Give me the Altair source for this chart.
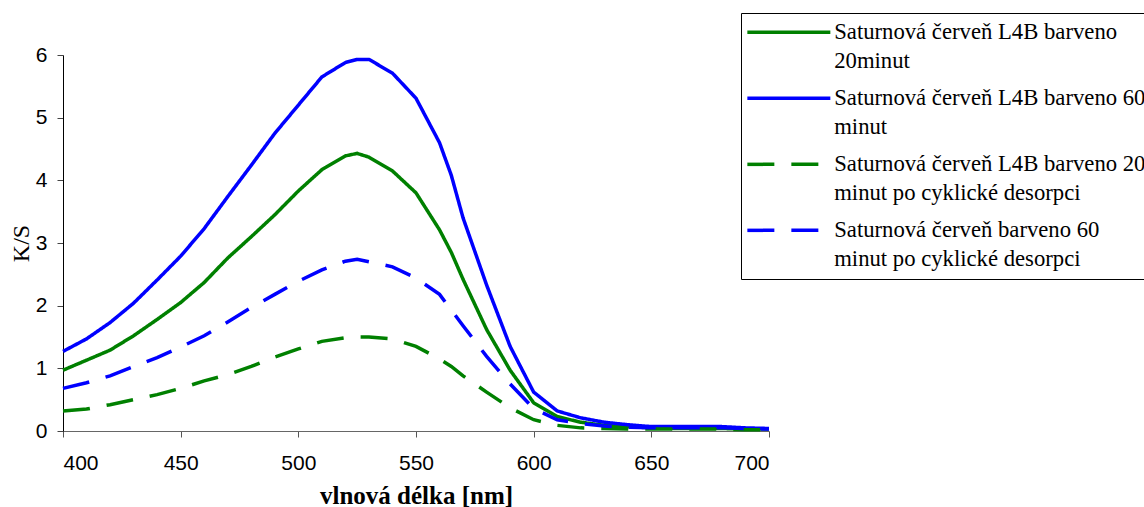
import altair as alt
import pandas as pd

# ---- data ----
wavelength = [400, 410, 420, 430, 440, 450, 460, 470, 480, 490, 500, 510, 520, 525, 530,
              540, 550, 560, 565, 570, 580, 590, 600, 610, 620, 630, 640, 650, 660, 670,
              680, 690, 700]

ks_20min = [0.97, 1.13, 1.29, 1.52, 1.78, 2.05, 2.37, 2.76, 3.10, 3.45, 3.83, 4.17, 4.39, 4.43, 4.37,
            4.15, 3.80, 3.21, 2.85, 2.42, 1.62, 0.97, 0.45, 0.23, 0.14, 0.09, 0.07, 0.05, 0.04, 0.04,
            0.04, 0.03, 0.03]

ks_60min = [1.27, 1.47, 1.73, 2.04, 2.41, 2.79, 3.23, 3.74, 4.24, 4.75, 5.20, 5.65, 5.88, 5.93, 5.93,
            5.71, 5.31, 4.60, 4.08, 3.40, 2.33, 1.35, 0.62, 0.32, 0.21, 0.14, 0.10, 0.07, 0.07, 0.07,
            0.07, 0.05, 0.04]

ks_20min_cyc = [0.32, 0.35, 0.42, 0.50, 0.58, 0.68, 0.80, 0.90, 1.03, 1.18, 1.31, 1.43, 1.49, 1.50, 1.50,
                1.47, 1.35, 1.15, 1.03, 0.88, 0.62, 0.37, 0.18, 0.09, 0.05, 0.04, 0.03, 0.03, 0.03, 0.03,
                0.03, 0.02, 0.02]

ks_60min_cyc = [0.68, 0.77, 0.88, 1.03, 1.17, 1.34, 1.52, 1.74, 1.97, 2.18, 2.39, 2.57, 2.71, 2.74, 2.70,
                2.62, 2.44, 2.18, 1.93, 1.68, 1.19, 0.75, 0.36, 0.18, 0.12, 0.08, 0.06, 0.05, 0.05, 0.05,
                0.05, 0.04, 0.03]

series_names = [
    "Saturnová červeň L4B barveno|20minut",
    "Saturnová červeň L4B barveno 60|minut",
    "Saturnová červeň L4B barveno 20|minut po cyklické desorpci",
    "Saturnová červeň barveno 60|minut po cyklické desorpci",
]
series_colors = ["#008000", "#0000FF", "#008000", "#0000FF"]
series_dashes = [[1, 0], [1, 0], [27, 17], [27, 17]]

x_ticks = [400, 450, 500, 550, 600, 650, 700]
y_ticks = [0, 1, 2, 3, 4, 5, 6]

frames = []
for name, vals in zip(series_names, [ks_20min, ks_60min, ks_20min_cyc, ks_60min_cyc]):
    frames.append(pd.DataFrame({"wl": wavelength, "ks": vals, "series": name}))
df = pd.concat(frames, ignore_index=True)

legend = alt.Legend(
    orient="none", legendX=678, legendY=-42, title=None,
    symbolType="M-8.3,0H8.3", symbolSize=100, symbolStrokeWidth=3.5, symbolOffset=28.5,
    labelFont="Liberation Serif", labelFontSize=22.7, labelColor="black",
    labelBaseline="middle", labelLimit=3000, labelOffset=34,
    labelExpr="split(datum.label, '|')",
    padding=8, rowPadding=14,
    strokeColor="black", fillColor="white",
)

chart = alt.Chart(df).mark_line(strokeWidth=3.5).encode(
    x=alt.X("wl:Q",
            scale=alt.Scale(domain=[400, 700], nice=False, zero=False),
            axis=alt.Axis(values=x_ticks, title="vlnová délka [nm]", grid=False,
                          labelFont="Liberation Sans", labelFontSize=21, labelColor="black",
                          labelPadding=15, tickSize=6, tickColor="#555555", domainColor="#666666",
                          titleFont="Liberation Serif", titleFontSize=25, titleFontWeight="bold",
                          titleColor="black", titlePadding=10, format="d")),
    y=alt.Y("ks:Q",
            scale=alt.Scale(domain=[0, 6], nice=False),
            axis=alt.Axis(values=y_ticks, title="K/S", grid=False,
                          labelFont="Liberation Sans", labelFontSize=21, labelColor="black",
                          labelPadding=10, tickSize=6, tickColor="#444444", domainColor="#000000",
                          titleFont="Liberation Serif", titleFontSize=24, titleFontWeight="normal",
                          titleColor="black", titlePadding=2, format="d")),
    color=alt.Color("series:N", scale=alt.Scale(domain=series_names, range=series_colors), legend=legend),
    strokeDash=alt.StrokeDash("series:N", scale=alt.Scale(domain=series_names, range=series_dashes), legend=legend),
).properties(
    width=706, height=376,
    autosize=alt.AutoSizeParams(type="none"),
    padding={"left": 63, "top": 55, "right": 375, "bottom": 76},
).configure(
    style={"guide-label": {"lineHeight": 28.3}}
).configure_view(strokeWidth=0)

chart.save("out.html", embed_options={"renderer": "svg", "actions": False})
